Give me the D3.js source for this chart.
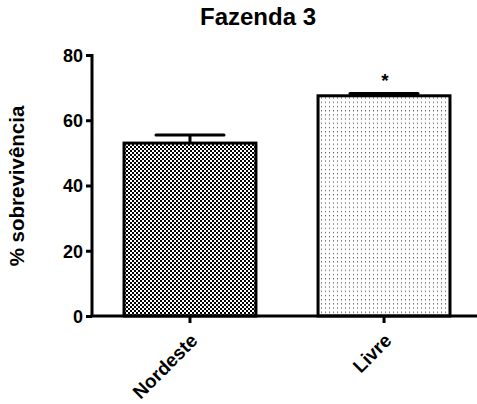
<!DOCTYPE html>
<html><head><meta charset="utf-8">
<script src="https://cdn.jsdelivr.net/npm/d3@7"></script>
<style>body{margin:0;background:#fff}svg{display:block}text{font-family:"Liberation Sans",Arial,sans-serif;font-weight:bold;fill:#000}</style>
</head><body>
<script>
const categories = ["Nordeste", "Livre"];
const values = [53, 67.5];
const errors = [2.5, 0.7];
const yTicks = [0, 20, 40, 60, 80];
const significance = ["", "*"];
const title = "Fazenda 3";
const yLabel = "% sobrevivência";

const W = 477, H = 404;
const svg = d3.select("body").append("svg").attr("width", W).attr("height", H);
const defs = svg.append("defs");
const p1 = defs.append("pattern").attr("id","check").attr("width",4).attr("height",4).attr("patternUnits","userSpaceOnUse");
p1.append("rect").attr("width",4).attr("height",4).attr("fill","#fff");
p1.append("rect").attr("width",2).attr("height",2).attr("fill","#000");
p1.append("rect").attr("x",2).attr("y",2).attr("width",2).attr("height",2).attr("fill","#000");
const p2 = defs.append("pattern").attr("id","dots").attr("width",4).attr("height",4.2).attr("patternUnits","userSpaceOnUse");
p2.append("rect").attr("width",4).attr("height",4.2).attr("fill","#fff");
p2.append("rect").attr("x",1).attr("y",1).attr("width",1).attr("height",1).attr("fill","#333");
const fills = ["url(#check)", "url(#dots)"];

const x0 = 92;
const x = d3.scaleBand().domain(categories).range([x0, 482]).paddingInner(0.32).paddingOuter(0.165);
const y = d3.scaleLinear().domain([0, 80]).range([316, 55]);

svg.append("text").attr("x", 258).attr("y", 25).attr("text-anchor","middle").attr("font-size", 24).text(title);
svg.append("text").attr("transform","translate(24,186) rotate(-90)").attr("text-anchor","middle").attr("font-size", 20.5).text(yLabel);

// bars
const g = svg.append("g");
categories.forEach((c,i)=>{
  const bx = x(c), bw = x.bandwidth(), cx = bx + bw/2;
  g.append("line").attr("x1",cx).attr("x2",cx).attr("y1",y(values[i])).attr("y2",y(values[i]+errors[i])).attr("stroke","#000").attr("stroke-width",3);
  g.append("line").attr("x1",cx-34).attr("x2",cx+34).attr("y1",y(values[i]+errors[i])).attr("y2",y(values[i]+errors[i])).attr("stroke","#000").attr("stroke-width",3).attr("stroke-linecap","round");
  g.append("rect").attr("x",bx).attr("y",y(values[i])).attr("width",bw).attr("height",y(0)-y(values[i]))
    .attr("fill",fills[i]).attr("stroke","#000").attr("stroke-width",3);
  if (significance[i]) svg.append("text").attr("x",cx+1).attr("y",y(values[i]+errors[i])-6).attr("text-anchor","middle").attr("font-size",19).text(significance[i]);
});

// y axis
const ya = svg.append("g").attr("transform",`translate(${x0},0)`)
  .call(d3.axisLeft(y).tickValues(yTicks).tickSize(6).tickPadding(3));
ya.select(".domain").attr("stroke-width",3).attr("d",`M0,${y(80)-1}V${y(0)}`);
ya.selectAll(".tick line").attr("stroke-width",3);
ya.selectAll(".tick text").attr("font-size",18).attr("font-family","Liberation Sans, Arial").attr("font-weight","bold").attr("dy","0.35em");

// x axis
const xa = svg.append("g").attr("transform",`translate(0,${y(0)})`)
  .call(d3.axisBottom(x).tickSize(7).tickPadding(4));
xa.select(".domain").attr("stroke-width",3).attr("d",`M${x0-1.5},0H${W}`);
xa.selectAll(".tick line").attr("stroke-width",3);
xa.selectAll(".tick text").attr("font-size",19).attr("font-family","Liberation Sans, Arial").attr("font-weight","bold")
  .attr("text-anchor","end").attr("dy",0).attr("transform","translate(1,18) rotate(-45)");
</script>
</body></html>
